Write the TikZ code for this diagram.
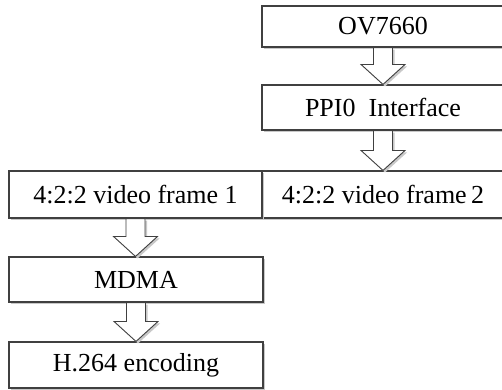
\documentclass[tikz,border=0pt]{standalone}
\usepackage{fontspec}
\setmainfont{Liberation Serif}
\usetikzlibrary{calc,shadows}
\definecolor{edge}{HTML}{404040}
\definecolor{shade}{HTML}{C8C8C8}
\tikzset{
  box/.style={draw=edge, line width=1.1pt, fill=white, inner sep=0pt,
    font=\fontsize{26}{30}\selectfont,
    drop shadow={shadow xshift=2.2pt, shadow yshift=-2.2pt, fill=shade, opacity=1}},
  blockarr/.style={draw=edge, line width=0.9pt, fill=white, line join=miter},
  arrshadow/.style={fill=shade, draw=none},
}
\newcommand\blockarrow[2]{%
  \fill[arrshadow] let \p1=(#1.south), \p2=(#2.north) in
    ([shift={(2pt,-2pt)}]\x1-9.5pt,\y1) -- ([shift={(2pt,-2pt)}]\x1+9.5pt,\y1)
    -- ([shift={(2pt,-2pt)}]\x1+9.5pt,\y2+20pt) -- ([shift={(2pt,-2pt)}]\x1+22pt,\y2+20pt)
    -- ([shift={(2pt,-2pt)}]\x1,\y2) -- ([shift={(2pt,-2pt)}]\x1-22pt,\y2+20pt)
    -- ([shift={(2pt,-2pt)}]\x1-9.5pt,\y2+20pt) -- cycle;
  \draw[blockarr] let \p1=(#1.south), \p2=(#2.north) in
    (\x1-9.5pt,\y1) -- (\x1+9.5pt,\y1) -- (\x1+9.5pt,\y2+20pt) -- (\x1+22pt,\y2+20pt)
    -- (\x1,\y2) -- (\x1-22pt,\y2+20pt) -- (\x1-9.5pt,\y2+20pt) -- cycle;
}
\begin{document}
\begin{tikzpicture}[x=1pt,y=-1pt]
\useasboundingbox (0,0) rectangle (502,389);
\clip (0,0) rectangle (502,389);
\fill[white] (0,0) rectangle (502,389);
\node[box, minimum width=242pt, minimum height=41pt] (ov) at (383,26.5) {OV7660};
\node[box, minimum width=242pt, minimum height=45pt] (ppi) at (383,107.5) {PPI0\ \ Interface};
\node[box, minimum width=242pt, minimum height=47pt] (f2) at (383,194.5) {4:2:2 video frame\,2};
\node[box, minimum width=253pt, minimum height=47pt] (f1) at (135.5,194.5) {4:2:2 video frame 1};
\node[box, minimum width=254pt, minimum height=45pt] (mdma) at (136,279.5) {MDMA};
\node[box, minimum width=254pt, minimum height=46pt] (h264) at (136,365) {H.264 encoding};
\blockarrow{ov}{ppi}
\blockarrow{ppi}{f2}
\blockarrow{f1}{mdma}
\blockarrow{mdma}{h264}
\end{tikzpicture}
\end{document}
